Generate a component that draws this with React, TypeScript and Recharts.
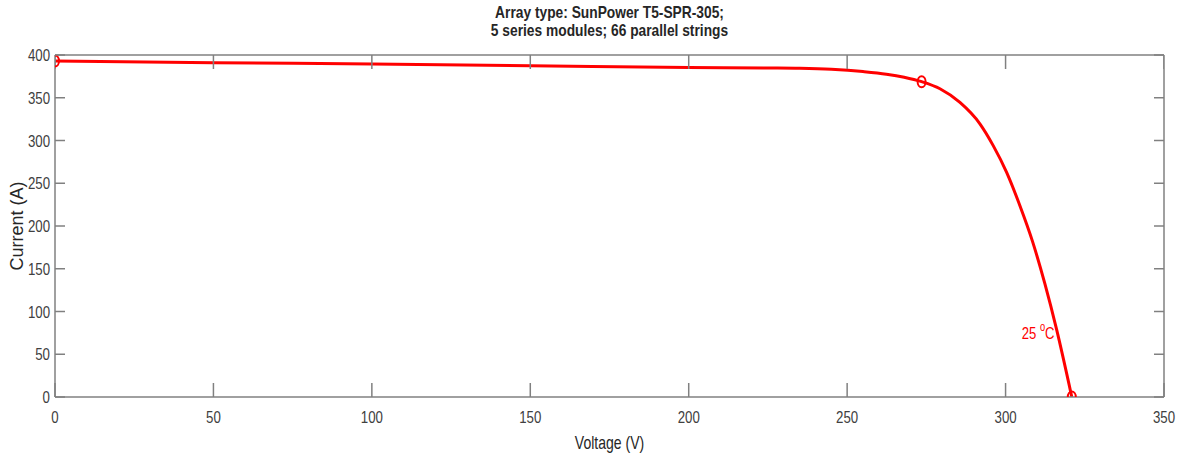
import React from "react";
import {
  ComposedChart,
  Line,
  Scatter,
  XAxis,
  YAxis,
  ReferenceDot,
  ReferenceLine,
} from "recharts";

// I-V curve
const voltage = [0, 50, 100, 150, 200, 225, 235, 245, 255, 262.4, 268, 273.5, 279.3, 285.6, 291.9, 296.1, 300.3, 304.5, 308.5, 312.4, 316.1, 320.9];
const current = [393, 391, 389.5, 387.5, 385.5, 384.8, 384.4, 383.2, 380.6, 377.6, 374, 368.8, 360.5, 344.5, 319.5, 294, 263, 224, 182, 132.5, 79, 0];

// Isc, MPP, Voc markers
const markerV = [0, 273.5, 320.9];
const markerI = [393, 368.8, 0];

const xTicks = [0, 50, 100, 150, 200, 250, 300, 350];
const yTicks = [0, 50, 100, 150, 200, 250, 300, 350, 400];

const titleLines = ["Array type: SunPower T5-SPR-305;", "5 series modules; 66 parallel strings"];
const tempLabel = { v: 305.1, i: 67.5, text: "25", unit: "C" };

const Y_MAX = 400;
const curve = voltage.map((v, k) => ({ v, i: current[k] }));
const markers = markerV.map((v, k) => ({ v, i: markerI[k] }));
const topTicks = xTicks.map((v) => ({ v, i: Y_MAX }));

const FONT = "'Liberation Sans', Arial, sans-serif";
const AXIS = "#808080";
const TXT = "#404040";
const RED = "#ff0000";
const SQ = 0.78; // the source image is squeezed horizontally
const X_TICK_LEN = 14;
const Y_TICK_LEN = 10;

function BottomTick(props: any) {
  const { x, y, payload } = props;
  return (
    <g>
      <line x1={x} y1={y} x2={x} y2={y - X_TICK_LEN} stroke={AXIS} strokeWidth={1.5} />
      <text
        transform={`translate(${x},${y + 26}) scale(${SQ},1)`}
        textAnchor="middle"
        fill={TXT}
        fontSize={17}
        fontFamily={FONT}
      >
        {payload.value}
      </text>
    </g>
  );
}

function LeftTick(props: any) {
  const { x, y, payload } = props;
  return (
    <g>
      <line x1={x} y1={y} x2={x + Y_TICK_LEN} y2={y} stroke={AXIS} strokeWidth={1.5} />
      <text
        transform={`translate(${x - 5},${y + 6}) scale(${SQ},1)`}
        textAnchor="end"
        fill={TXT}
        fontSize={17}
        fontFamily={FONT}
      >
        {payload.value}
      </text>
    </g>
  );
}

function RightTick(props: any) {
  const { x, y } = props;
  return <line x1={x} y1={y} x2={x - Y_TICK_LEN} y2={y} stroke={AXIS} strokeWidth={1.5} />;
}

function TopTickMark(props: any) {
  const { cx, cy } = props;
  return <line x1={cx} y1={cy} x2={cx} y2={cy + X_TICK_LEN} stroke={AXIS} strokeWidth={1.5} />;
}

function Marker(props: any) {
  const { cx, cy } = props;
  return <ellipse cx={cx} cy={cy} rx={4} ry={5.5} fill="none" stroke={RED} strokeWidth={2} />;
}

function TempText(props: any) {
  const vb = props.viewBox || {};
  const x = vb.x + (vb.width || 0) / 2;
  const y = vb.y + (vb.height || 0) / 2;
  return (
    <text transform={`translate(${x},${y}) scale(0.77,1)`} textAnchor="start" fill={RED} fontSize={17} fontFamily={FONT}>
      {tempLabel.text + " "}
      <tspan dy={-8} fontSize={12}>o</tspan>
      <tspan dy={8}>{tempLabel.unit}</tspan>
    </text>
  );
}

function XLabel(props: any) {
  const vb = props.viewBox || {};
  const x = vb.x + vb.width / 2;
  return (
    <text transform={`translate(${x},449) scale(${SQ},1)`} textAnchor="middle" fill="#262626" fontSize={18} fontFamily={FONT}>
      Voltage (V)
    </text>
  );
}

function YLabel(props: any) {
  const vb = props.viewBox || {};
  const y = vb.y + vb.height / 2;
  return (
    <text transform={`translate(23,${y}) rotate(-90)`} textAnchor="middle" fill="#262626" fontSize={18} fontFamily={FONT}>
      Current (A)
    </text>
  );
}

export default function App() {
  return (
    <div style={{ position: "absolute", left: 0, top: 0, width: 1181, height: 456, background: "#fff" }}>
      <div
        style={{
          position: "absolute",
          left: 55,
          width: 1109,
          top: 4,
          textAlign: "center",
          fontFamily: FONT,
          fontWeight: "bold",
          fontSize: 17,
          lineHeight: "18px",
          color: "#262626",
          transform: `scaleX(0.81)`,
          transformOrigin: "center",
        }}
      >
        {titleLines.map((t) => (
          <div key={t}>{t}</div>
        ))}
      </div>
      <ComposedChart
        width={1181}
        height={456}
        data={curve}
        margin={{ top: 55, right: 16, bottom: 19, left: 10 }}
      >
        <XAxis
          xAxisId="b"
          dataKey="v"
          type="number"
          domain={[0, 350]}
          ticks={xTicks}
          interval={0}
          allowDataOverflow
          stroke={AXIS}
          strokeWidth={1.5}
          tickLine={false}
          tickSize={0}
          tickMargin={0}
          tick={<BottomTick />}
          height={40}
          label={<XLabel />}
        />
        <YAxis
          yAxisId="l"
          type="number"
          domain={[0, Y_MAX]}
          ticks={yTicks}
          interval={0}
          allowDataOverflow
          stroke={AXIS}
          strokeWidth={1.5}
          tickLine={false}
          tickSize={0}
          tickMargin={0}
          tick={<LeftTick />}
          width={45}
          label={<YLabel />}
        />
        <YAxis
          yAxisId="r"
          orientation="right"
          type="number"
          domain={[0, Y_MAX]}
          ticks={yTicks}
          interval={0}
          allowDataOverflow
          stroke={AXIS}
          strokeWidth={1.5}
          tickLine={false}
          tickSize={0}
          tickMargin={0}
          tick={<RightTick />}
          width={1}
        />
        {/* top edge of the box */}
        <ReferenceLine xAxisId="b" yAxisId="l" y={Y_MAX} stroke={AXIS} strokeWidth={1.5} />
        <Line
          xAxisId="b"
          yAxisId="l"
          dataKey="i"
          type="monotone"
          stroke={RED}
          strokeWidth={3}
          dot={false}
          activeDot={false}
          isAnimationActive={false}
        />
        {/* inward ticks on the top edge, drawn after the curve so they stay visible */}
        <Scatter
          xAxisId="b"
          yAxisId="l"
          data={topTicks}
          dataKey="i"
          shape={<TopTickMark />}
          isAnimationActive={false}
        />
        <Scatter
          xAxisId="b"
          yAxisId="l"
          data={markers}
          dataKey="i"
          shape={<Marker />}
          isAnimationActive={false}
        />
        <ReferenceDot
          xAxisId="b"
          yAxisId="l"
          x={tempLabel.v}
          y={tempLabel.i}
          r={0}
          fill="none"
          stroke="none"
          ifOverflow="visible"
          label={<TempText />}
        />
      </ComposedChart>
    </div>
  );
}
